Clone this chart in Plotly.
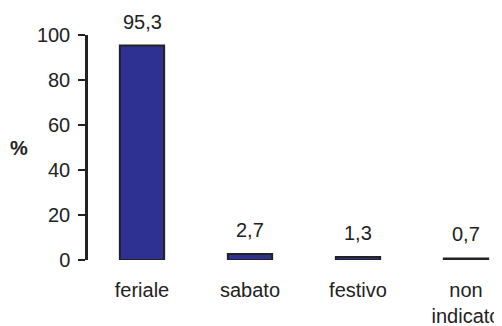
import plotly.graph_objects as go

categories = ["feriale", "sabato", "festivo", "non<br>indicato"]
values = [95.3, 2.7, 1.3, 0.7]
value_labels = ["95,3", "2,7", "1,3", "0,7"]
y_ticks = [0, 20, 40, 60, 80, 100]

# page body has an 8px margin, so the figure is sized to the visible window
W, H = 494, 318
left, right, top, bottom = 80, 0, 27, 66
plot_w = W - left - right
plot_h = H - top - bottom

fig = go.Figure(go.Bar(
    x=categories, y=values,
    marker=dict(color="#2E3192", line=dict(color="#222222", width=2)),
    width=0.41, cliponaxis=False,
))

annotations = [dict(text=lab, x=c, y=v, xref="x", yref="y", showarrow=False,
                    xanchor="center", yanchor="bottom", yshift=11,
                    font=dict(size=20, color="#222222"))
               for c, v, lab in zip(categories, values, value_labels)]
annotations.append(dict(text="<b>%</b>", xref="paper", yref="paper",
                        x=(19 - 88) / plot_w, y=(260 - 148) / plot_h,
                        xanchor="center", yanchor="middle", showarrow=False,
                        font=dict(size=20, color="#222222")))

fig.update_layout(
    width=W, height=H,
    margin=dict(l=left, r=right, t=top, b=bottom, autoexpand=False),
    plot_bgcolor="white", paper_bgcolor="white",
    font=dict(family="Liberation Sans, Arial, sans-serif", size=20, color="#222222"),
    showlegend=False,
    xaxis=dict(range=[-0.5, -0.5 + plot_w / 108], showline=False, ticks="",
               showgrid=False, zeroline=False, ticklabelstandoff=16,
               tickfont=dict(size=20), automargin=False),
    yaxis=dict(range=[0, 100], tickvals=y_ticks, showline=True, linecolor="#222222",
               linewidth=2.5, ticks="outside", ticklen=7, tickwidth=2, tickcolor="#222222",
               showgrid=False, zeroline=False, ticklabelstandoff=4,
               tickfont=dict(size=20), automargin=False),
    annotations=annotations,
)

fig.write_html("out.html")
